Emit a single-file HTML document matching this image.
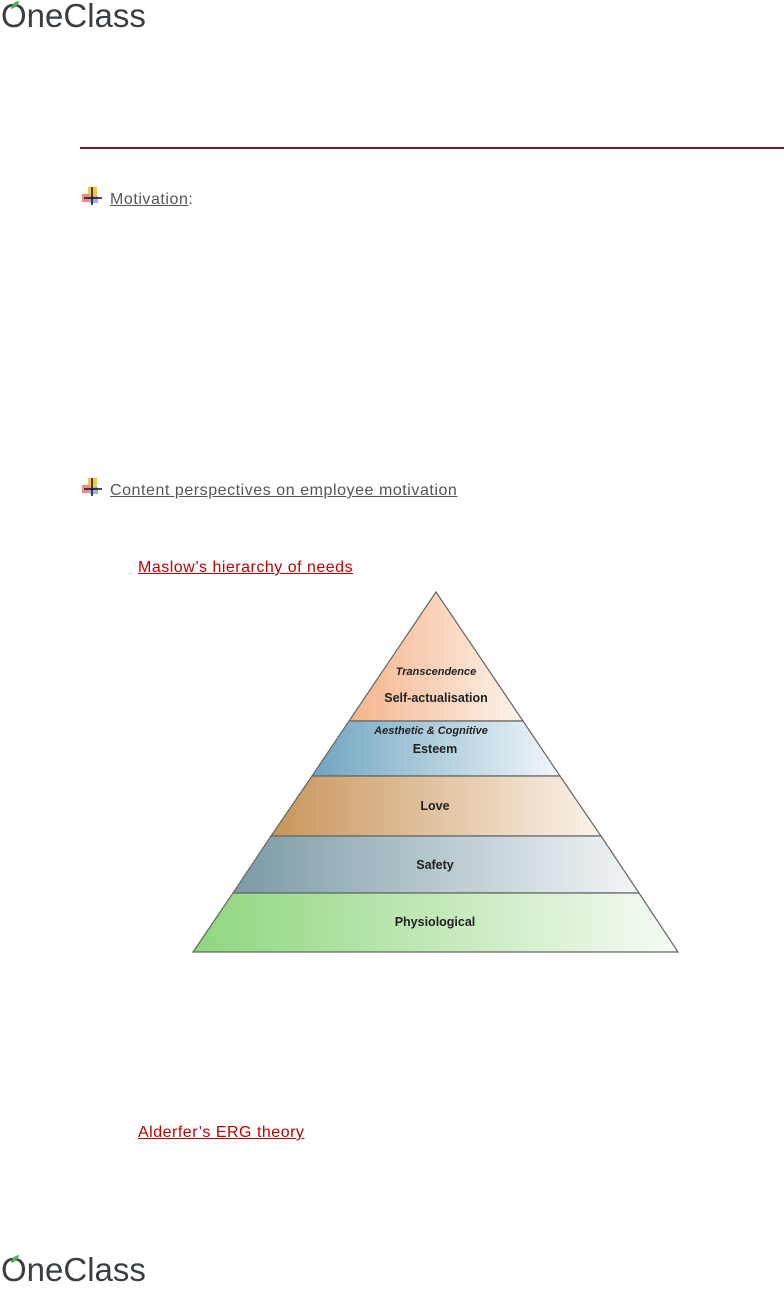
<!DOCTYPE html>
<html><head><style>
body{margin:0;width:784px;height:1287px;position:relative;background:#fff;font-family:"Liberation Sans",sans-serif;overflow:hidden}
.logo{position:absolute;left:1px;font-size:33px;color:#3a3f44;letter-spacing:0px;font-family:"Liberation Sans",sans-serif}
.t{position:absolute;font-size:16px;color:#555;letter-spacing:0.55px}
.u{text-decoration:underline}
.red{position:absolute;font-size:16px;color:#c00000;text-decoration:underline;letter-spacing:0.5px}
.icon{position:absolute;width:20px;height:18px}
</style></head><body>
<div class="logo" style="top:-3px">OneClass</div>
<svg style="position:absolute;left:8px;top:0" width="14" height="10"><path d="M3 9 Q4 2 11 1 Q10 7 3 9Z" fill="#4caf50"/></svg>
<div style="position:absolute;left:80px;top:147px;width:704px;height:2px;background:#6b1a2a"></div>

<svg class="icon" style="left:82px;top:187px" viewBox="0 0 20 18"><rect x="6" y="0" width="9" height="9" fill="#f5c842"/><rect x="0" y="7" width="8" height="8" fill="#f28a8a"/><rect x="8" y="9" width="8" height="7" fill="#9ab0f0"/><path d="M10 0V18M2 11H20" stroke="#111" stroke-width="1.5"/></svg>
<div class="t" style="left:110px;top:191px"><span class="u">Motivation</span>:</div>

<svg class="icon" style="left:82px;top:478px" viewBox="0 0 20 18"><rect x="6" y="0" width="9" height="9" fill="#f5c842"/><rect x="0" y="7" width="8" height="8" fill="#f28a8a"/><rect x="8" y="9" width="8" height="7" fill="#9ab0f0"/><path d="M10 0V18M2 11H20" stroke="#111" stroke-width="1.5"/></svg>
<div class="t u" style="left:110px;top:482px">Content perspectives on employee motivation</div>

<div class="red" style="left:138px;top:559px">Maslow’s hierarchy of needs</div>

<svg style="position:absolute;left:0;top:0" width="784" height="1287">
<defs>
<linearGradient id="g1" x1="0" x2="1"><stop offset="0" stop-color="#f5b48a"/><stop offset="1" stop-color="#fdf3ec"/></linearGradient>
<linearGradient id="g2" x1="0" x2="1"><stop offset="0" stop-color="#6fa5c0"/><stop offset="1" stop-color="#f2f6f9"/></linearGradient>
<linearGradient id="g3" x1="0" x2="1"><stop offset="0" stop-color="#c8955a"/><stop offset="1" stop-color="#fbf3ea"/></linearGradient>
<linearGradient id="g4" x1="0" x2="1"><stop offset="0" stop-color="#7a9aa5"/><stop offset="1" stop-color="#f3f6f8"/></linearGradient>
<linearGradient id="g5" x1="0" x2="1"><stop offset="0" stop-color="#8fd67e"/><stop offset="1" stop-color="#f6fbf4"/></linearGradient>
</defs>
<g stroke="#666" stroke-width="1.2">
<polygon points="436,592 349,721 523,721" fill="url(#g1)"/>
<polygon points="349,721 523,721 560,776 312,776" fill="url(#g2)"/>
<polygon points="312,776 560,776 601,836 271,836" fill="url(#g3)"/>
<polygon points="271,836 601,836 639,893 233,893" fill="url(#g4)"/>
<polygon points="233,893 639,893 678,952 193,952" fill="url(#g5)"/>
</g>
<g font-family="Liberation Sans,sans-serif" font-size="12.5" font-weight="bold" fill="#222" text-anchor="middle">
<text x="436" y="675" font-style="italic" font-size="11">Transcendence</text>
<text x="436" y="702">Self-actualisation</text>
<text x="431" y="734" font-style="italic" font-size="11">Aesthetic &amp; Cognitive</text>
<text x="435" y="753">Esteem</text>
<text x="435" y="810">Love</text>
<text x="435" y="869">Safety</text>
<text x="435" y="926">Physiological</text>
</g>
</svg>

<div class="red" style="left:138px;top:1124px">Alderfer’s ERG theory</div>
<div class="logo" style="top:1251px">OneClass</div>
<svg style="position:absolute;left:8px;top:1254px" width="14" height="10"><path d="M3 9 Q4 2 11 1 Q10 7 3 9Z" fill="#4caf50"/></svg>
</body></html>
